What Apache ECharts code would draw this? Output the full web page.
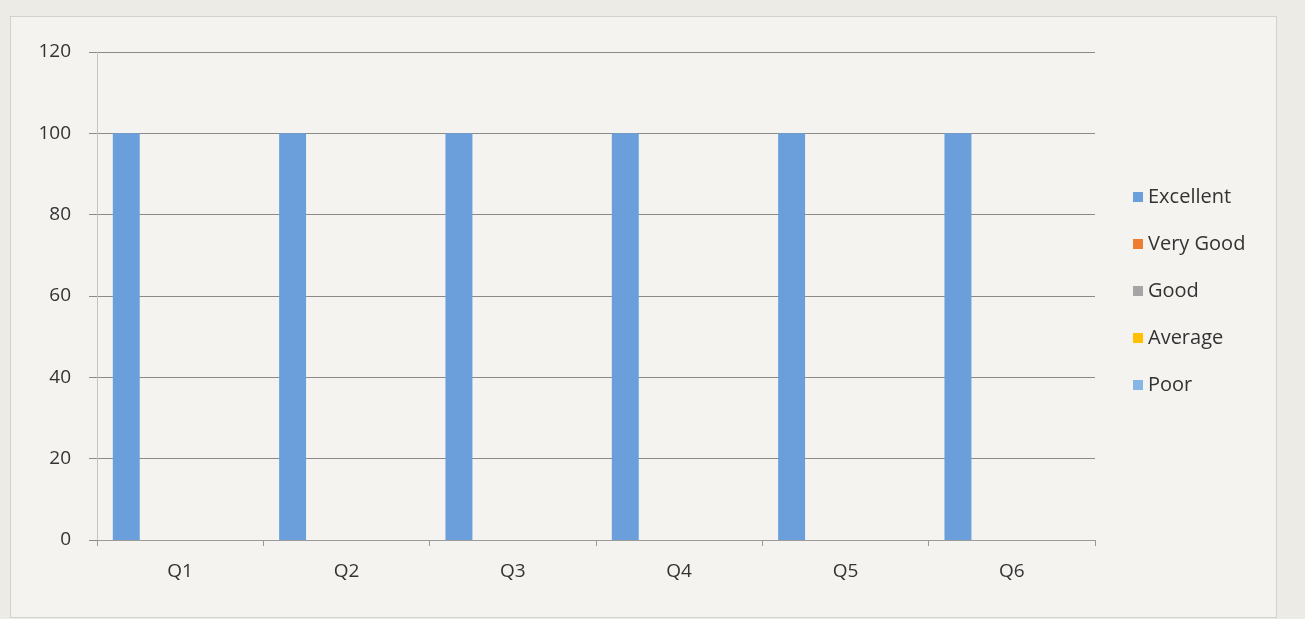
<!DOCTYPE html>
<html>
<head>
<meta charset="utf-8">
<script src="https://cdn.jsdelivr.net/npm/echarts@6/dist/echarts.min.js"></script>
<style>
  html, body { margin: 0; padding: 0; background: #ecebe6; }
  #frame {
    position: absolute; left: 10px; top: 16px; width: 1265px; height: 600px;
    border: 1px solid #d2d1cc; background: #f4f3ef;
  }
  #chart { position: absolute; left: 0; top: 0; width: 1305px; height: 619px; }
</style>
</head>
<body>
<div id="frame"></div>
<div id="chart"></div>
<script>
const categories = ["Q1", "Q2", "Q3", "Q4", "Q5", "Q6"];
const seriesNames = ["Excellent", "Very Good", "Good", "Average", "Poor"];
const excellent = [100, 100, 100, 100, 100, 100];
const veryGood = [0, 0, 0, 0, 0, 0];
const good = [0, 0, 0, 0, 0, 0];
const average = [0, 0, 0, 0, 0, 0];
const poor = [0, 0, 0, 0, 0, 0];
const colors = ["#6a9fdc", "#ed7d31", "#a5a5a5", "#ffc000", "#86b6e6"];

const chart = echarts.init(document.getElementById("chart"));
const values = [excellent, veryGood, good, average, poor];
const option = {
  backgroundColor: "transparent",
  color: colors,
  textStyle: { fontFamily: "Open Sans" },
  grid: { left: 97, right: 210, top: 52, bottom: 79 },
  legend: {
    orient: "vertical",
    left: 1128,
    top: 182,
    itemWidth: 10,
    itemHeight: 10,
    itemGap: 27,
    icon: "rect",
    data: seriesNames,
    textStyle: { fontSize: 20, color: "#333" },
  },
  xAxis: {
    type: "category",
    data: categories,
    axisLine: { show: true, lineStyle: { color: "#9a9a9a" } },
    axisTick: { show: true, length: 6, lineStyle: { color: "#9a9a9a" } },
    axisLabel: { fontSize: 19, color: "#333", margin: 22 },
  },
  yAxis: {
    type: "value",
    min: 0,
    max: 120,
    interval: 20,
    axisLine: { show: true, lineStyle: { color: "#c4c4c4" } },
    axisTick: { show: true, length: 8, lineStyle: { color: "#8a8a8a" } },
    axisLabel: { fontSize: 19, color: "#333", margin: 26 },
    splitLine: { lineStyle: { color: "#8a8a8a" } },
  },
  series: seriesNames.map((name, i) => ({
    name: name,
    type: "bar",
    data: values[i],
    barGap: "0%",
    barCategoryGap: "19%",
  })),
};
chart.setOption(option);
</script>
</body>
</html>
